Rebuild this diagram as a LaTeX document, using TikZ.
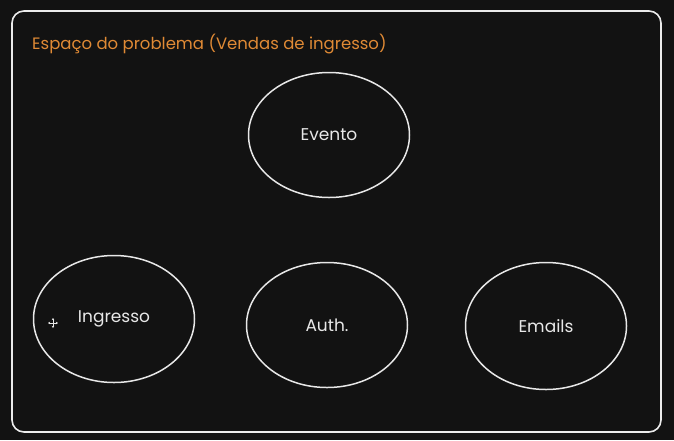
\documentclass[tikz,border=0pt]{standalone}
\usepackage{fontspec}
\setmainfont{Poppins}
\usetikzlibrary{arrows.meta,shapes.geometric}
\definecolor{bgc}{HTML}{121212}
\definecolor{linec}{HTML}{E8E8E8}
\definecolor{titlec}{HTML}{E08A35}
\begin{document}
\begin{tikzpicture}[x=1pt,y=-1pt,
  blob/.style={draw=linec,line width=1.5pt,ellipse,minimum width=161pt,minimum height=125pt,text=linec,font=\fontsize{17}{19}\selectfont,inner sep=0pt},
  frame/.style={draw=linec!85,line width=1.6pt,rounded corners=12pt}]
\useasboundingbox (0,0) rectangle (674,440);
\fill[bgc] (0,0) rectangle (674,440);
\draw[frame] (12,11) rectangle (661,432);
\node[anchor=west,text=titlec,font=\fontsize{16.5}{18}\selectfont,inner sep=0pt] (title) at (32,44) {Espaço do problema (Vendas de ingresso)};
\node[blob] (evento) at (329,135) {Evento};
\node[blob,minimum height=127pt] (ingresso) at (114,319) {Ingresso};
\node[blob] (auth) at (327,325) {Auth.};
\node[blob,minimum height=127pt] (emails) at (546,326) {Emails};
\coordinate (cur) at (53,323);
\draw[linec,line width=0.9pt,-{Stealth[length=2.2pt,width=2.6pt]}] (cur) -- ++(0,-5);
\draw[linec,line width=0.9pt,-{Stealth[length=2.2pt,width=2.6pt]}] (cur) -- ++(0,5);
\draw[linec,line width=0.9pt,-{Stealth[length=2.2pt,width=2.6pt]}] (cur) -- ++(-5,0);
\draw[linec,line width=0.9pt,-{Stealth[length=2.2pt,width=2.6pt]}] (cur) -- ++(5,0);
\end{tikzpicture}
\end{document}
